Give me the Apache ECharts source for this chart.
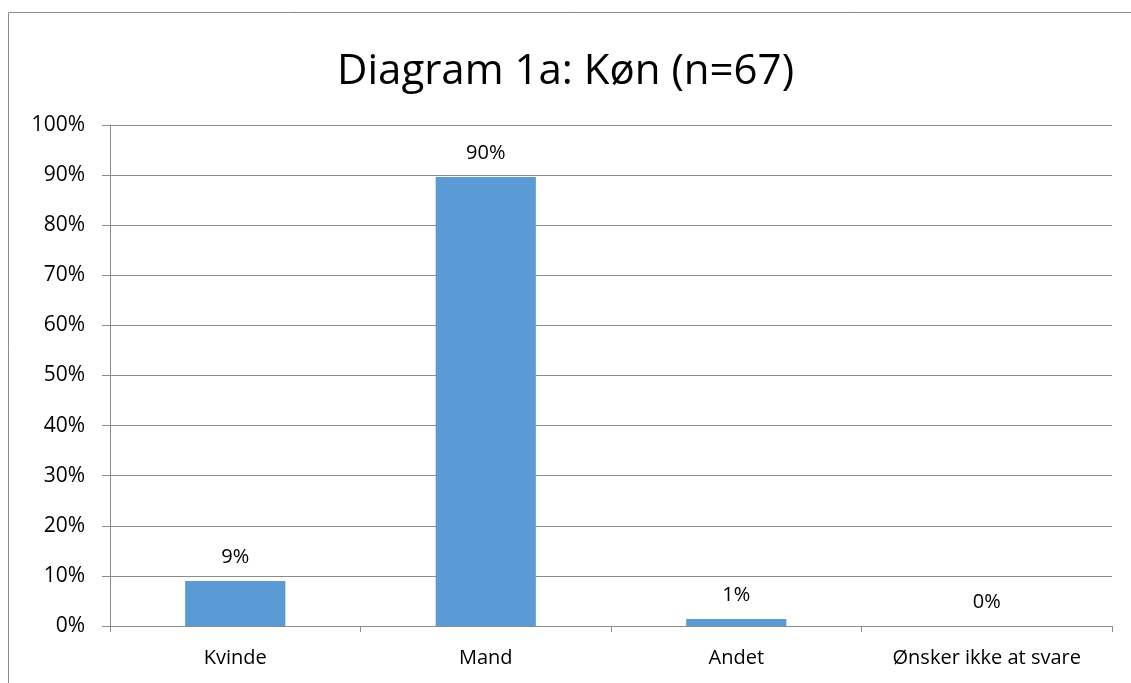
<!DOCTYPE html>
<html>
<head>
<meta charset="utf-8">
<script src="https://cdn.jsdelivr.net/npm/echarts@6/dist/echarts.min.js"></script>
<style>
  html, body { margin: 0; padding: 0; background: #fff; }
  #chart { width: 1131px; height: 683px; }
</style>
</head>
<body>
<div id="chart"></div>
<script>
// Diagram 1a: Køn
const titleText = 'Diagram 1a: Køn (n=67)'
const categories = ['Kvinde', 'Mand', 'Andet', 'Ønsker ikke at svare']
const shares = [9.0, 89.6, 1.4, 0]
const yTicks = [0, 10, 20, 30, 40, 50, 60, 70, 80, 90, 100]

const font = 'Open Sans'
const chart = echarts.init(document.getElementById('chart'))

chart.setOption({
    animation: false,
    title: {
        text: titleText,
        left: 'center',
        top: 46,
        textStyle: { fontFamily: font, fontSize: 42, fontWeight: 'normal', color: '#000' }
    },
    graphic: [{
        type: 'rect',
        shape: { x: 8.5, y: 12.5, width: 1140, height: 700 },
        style: { fill: 'none', stroke: '#8c8c8c', lineWidth: 1 },
        silent: true
    }],
    grid: { left: 110, right: 19, top: 125, bottom: 57, containLabel: false },
    xAxis: {
        type: 'category',
        data: categories,
        axisLine: { lineStyle: { color: '#8c8c8c' } },
        axisTick: { show: true, length: 6, lineStyle: { color: '#8c8c8c' } },
        axisLabel: { fontFamily: font, fontSize: 20, color: '#000', margin: 22 }
    },
    yAxis: {
        type: 'value',
        min: yTicks[0],
        max: yTicks[yTicks.length - 1],
        interval: 10,
        axisLine: { show: true, lineStyle: { color: '#8c8c8c' } },
        axisTick: { show: true, length: 8, lineStyle: { color: '#8c8c8c' } },
        splitLine: { lineStyle: { color: '#8c8c8c' } },
        axisLabel: { fontFamily: font, fontSize: 21, color: '#000', margin: 25, formatter: v => v + '%' }
    },
    series: [{
        type: 'bar',
        data: shares,
        barWidth: '40%',
        itemStyle: { color: '#5b9bd5' },
        label: {
            show: true,
            position: 'top',
            distance: 14,
            fontFamily: font,
            fontSize: 20,
            color: '#000',
            formatter: p => Math.round(p.value) + '%'
        }
    }]
})
</script>
</body>
</html>
